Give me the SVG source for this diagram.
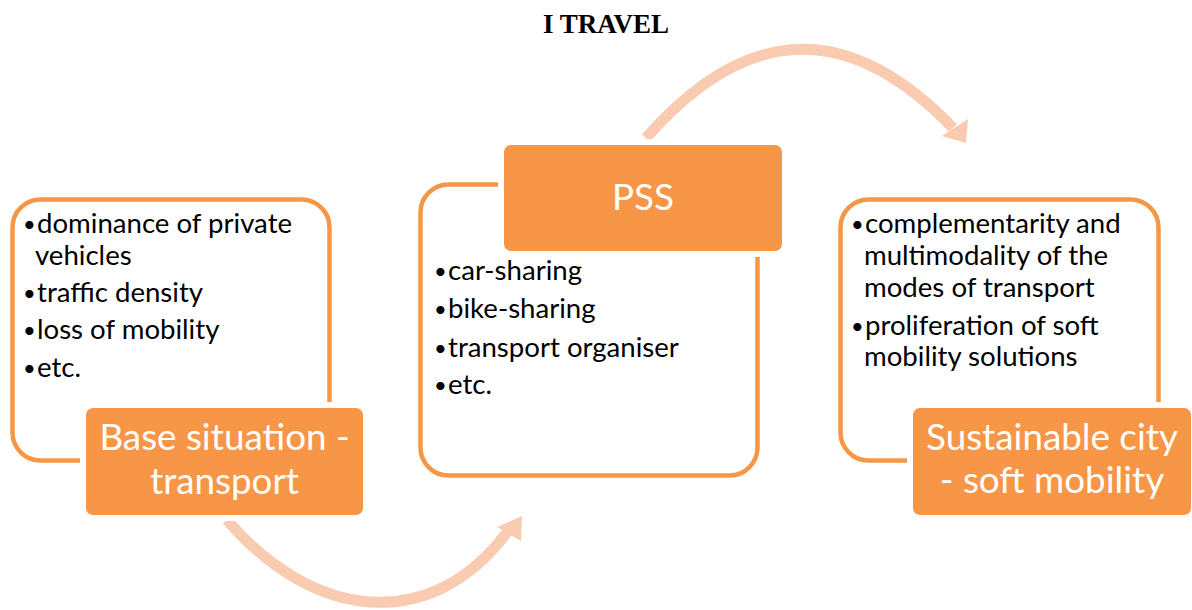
<svg xmlns="http://www.w3.org/2000/svg" width="1192" height="610" viewBox="0 0 1192 610">
  <style>
    .frame { fill: #ffffff; stroke: #f79646; stroke-width: 4.5; }
    .label { fill: #f79646; stroke: #ffffff; stroke-width: 12; paint-order: stroke fill; }
    .body { font-family: Lato, "Open Sans", sans-serif; font-size: 27.6px; fill: #000000; }
    .dot { font-family: Lato, "Open Sans", sans-serif; font-size: 22px; fill: #000000; }
    .head { font-family: Lato, "Open Sans", sans-serif; font-size: 36.8px; fill: #ffffff; text-anchor: middle; }
    .title { font-family: "Liberation Serif", serif; font-weight: bold; font-size: 27px; fill: #000000; text-anchor: middle; }
    .flow { fill: none; stroke: #f9cbb0; stroke-width: 11; }
    .tip { fill: #f9cbb0; }
  </style>

  <rect width="1192" height="610" fill="#ffffff"/>

  <text id="title" class="title" x="606" y="33">I TRAVEL</text>

  <!-- curved flow arrows between the stages -->
  <g id="connectors">
    <path class="flow" d="M227,520 C312,619 430,636 508,531"/>
    <polygon class="tip" points="497,527 522,516 521,541"/>
    <path class="flow" d="M646,138 C746,24 848,19 953,128"/>
    <polygon class="tip" points="942,136 968,119 966,143"/>
  </g>

  <!-- stage 1 -->
  <g id="base-situation">
    <rect class="frame" x="12.5" y="199.5" width="317" height="261" rx="28"/>
    <text class="dot" x="23" y="232">•</text>
    <text class="body" x="37" y="233">dominance of private</text>
    <text class="body" x="35" y="265">vehicles</text>
    <text class="dot" x="23" y="301">•</text>
    <text class="body" x="37" y="302">traffic density</text>
    <text class="dot" x="23" y="338">•</text>
    <text class="body" x="37" y="339">loss of mobility</text>
    <text class="dot" x="23" y="376">•</text>
    <text class="body" x="37" y="377">etc.</text>
    <rect class="label" x="86" y="408" width="277" height="107" rx="7"/>
    <text class="head" x="224.5" y="450">Base situation -</text>
    <text class="head" x="224.5" y="494">transport</text>
  </g>

  <!-- stage 2 -->
  <g id="pss">
    <rect class="frame" x="420.5" y="184.5" width="337" height="291" rx="28"/>
    <rect class="label" x="504" y="145" width="278" height="106" rx="7"/>
    <text class="head" x="643" y="210">PSS</text>
    <text class="dot" x="434" y="279">•</text>
    <text class="body" x="448" y="280">car-sharing</text>
    <text class="dot" x="434" y="317">•</text>
    <text class="body" x="448" y="318">bike-sharing</text>
    <text class="dot" x="434" y="356">•</text>
    <text class="body" x="448" y="357">transport organiser</text>
    <text class="dot" x="434" y="393">•</text>
    <text class="body" x="448" y="394">etc.</text>
  </g>

  <!-- stage 3 -->
  <g id="sustainable-city">
    <rect class="frame" x="840.5" y="199.5" width="318" height="261" rx="28"/>
    <text class="dot" x="851" y="232">•</text>
    <text class="body" x="865" y="233">complementarity and</text>
    <text class="body" x="864" y="265">multimodality of the</text>
    <text class="body" x="864" y="297">modes of transport</text>
    <text class="dot" x="851" y="334">•</text>
    <text class="body" x="865" y="335">proliferation of soft</text>
    <text class="body" x="864" y="366">mobility solutions</text>
    <rect class="label" x="913" y="408" width="278" height="107" rx="7"/>
    <text class="head" x="1052" y="450">Sustainable city</text>
    <text class="head" x="1052" y="493">- soft mobility</text>
  </g>
</svg>
